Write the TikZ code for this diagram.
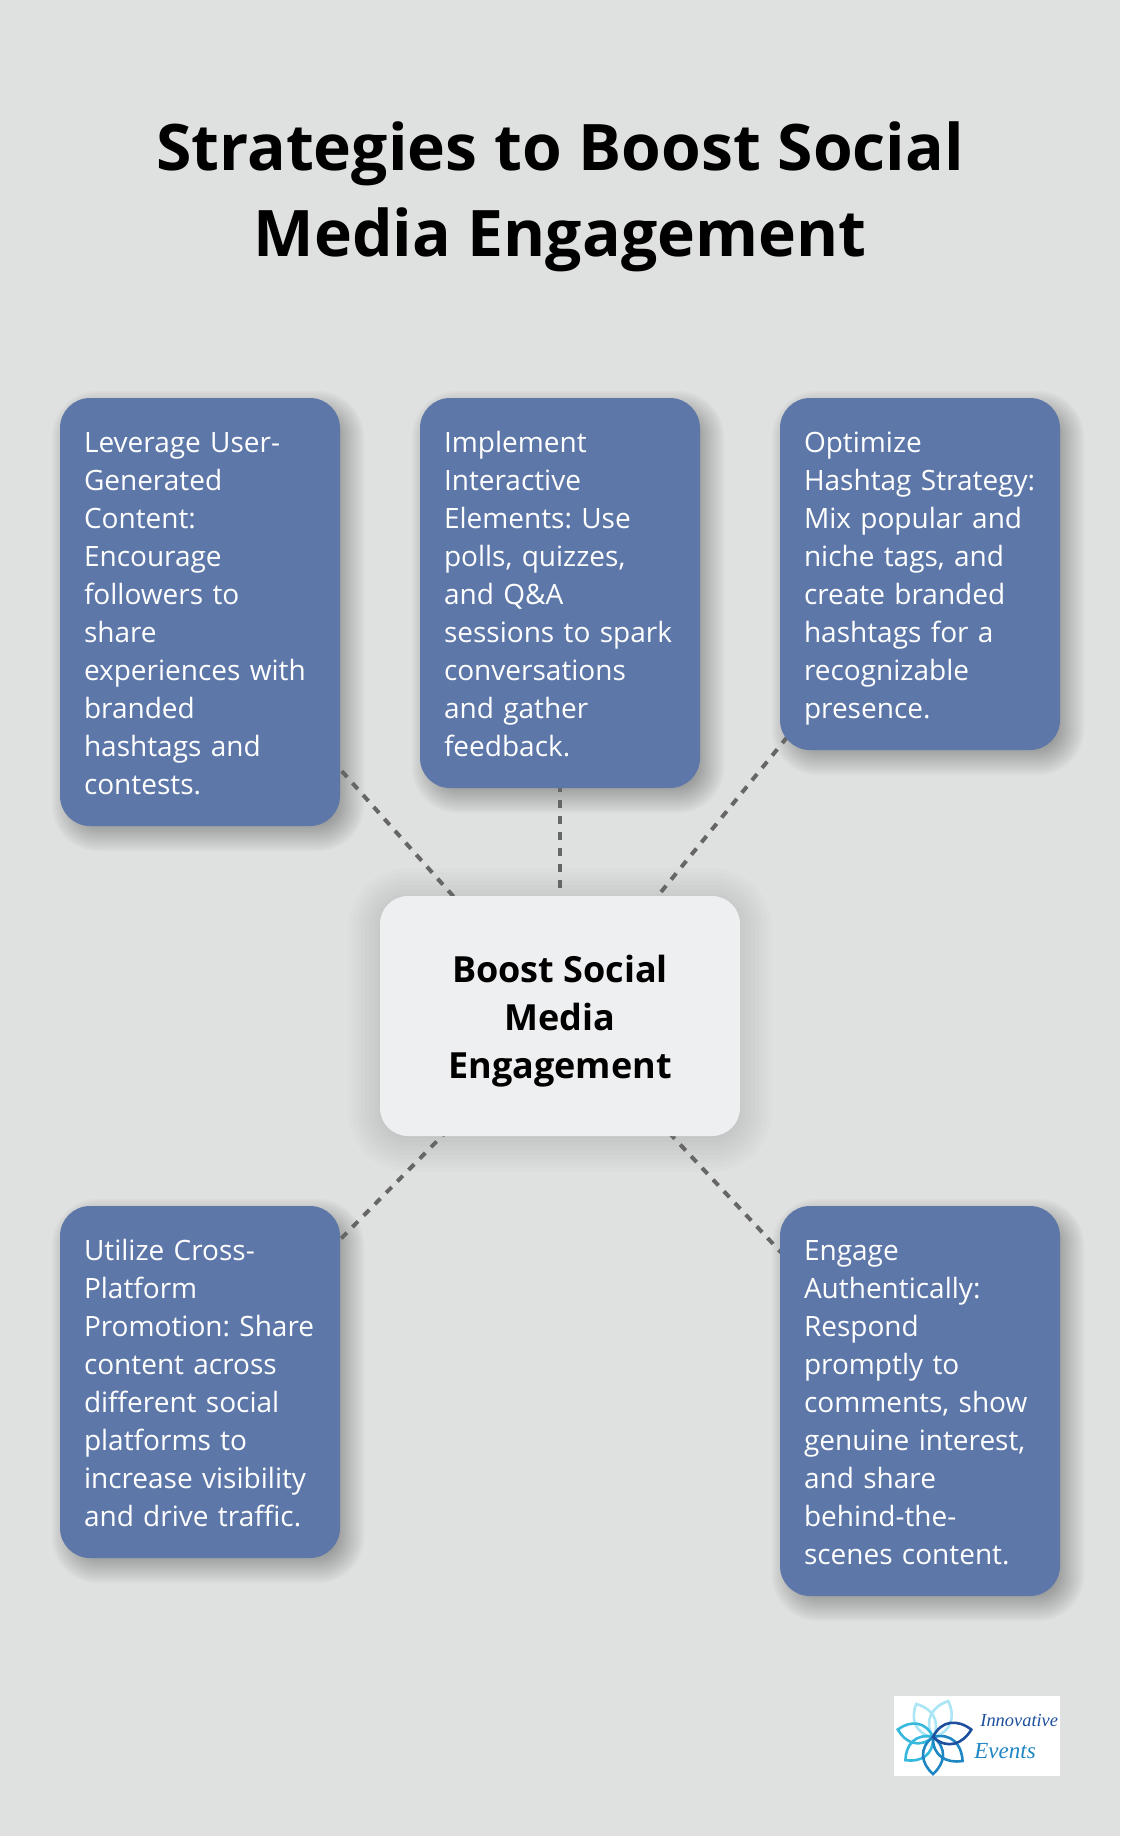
\documentclass[tikz,border=0pt]{standalone}
\usepackage{fontspec}
\setmainfont{Open Sans}
\newfontfamily\brandfont{Liberation Serif}
\frenchspacing
\usetikzlibrary{positioning,calc,backgrounds}
\definecolor{pagebg}{RGB}{223,225,224}
\definecolor{boxblue}{RGB}{93,119,168}
\definecolor{hubcol}{RGB}{238,239,241}
\definecolor{dashcol}{RGB}{102,102,102}
\definecolor{logodark}{RGB}{29,79,158}
\definecolor{logomid}{RGB}{30,135,195}
\definecolor{logosky}{RGB}{55,185,222}
\definecolor{logopale}{RGB}{170,230,245}
\tikzset{>=latex}
\newcommand{\linestrut}{\rule[-3.8pt]{0pt}{19pt}}
\tikzset{
  infobox/.style={fill=boxblue,text=white,rounded corners=15pt,inner sep=12pt,outer sep=0pt,text width=116pt,align=left,
    font=\fontsize{14}{19}\selectfont,execute at begin node=\linestrut,execute at end node=\linestrut},
  hubnode/.style={fill=hubcol,text=black,rounded corners=14pt,minimum width=180pt,minimum height=120pt,inner sep=0pt,outer sep=0pt,align=center,
    font=\fontsize{18}{24}\selectfont\bfseries},
  titlenode/.style={align=center,font=\fontsize{32.1}{43}\selectfont\bfseries},
  linkline/.style={draw=dashcol,line width=2pt,dash pattern=on 4pt off 4pt},
  petal/.style={line width=1.3pt,line join=miter}
}
\newcommand{\softshadow}[7]{%node,xshift,yshift,opacity of one layer,radius,layers,reach
  \foreach \i in {1,...,#6} {
    \pgfmathsetmacro\spread{#7-2*#7*(\i-1)/(#6-1)}
    \pgfmathsetmacro\cornrad{max(#5+\spread,1)}
    \fill[black,opacity=#4,rounded corners=\cornrad pt]
      ($(#1.south west)+(#2-\spread*2,#3+\spread*2)$) rectangle ($(#1.north east)+(#2+\spread*2,#3-\spread*2)$);
  }
}
\begin{document}
\begin{tikzpicture}[x=0.5pt,y=-0.5pt]
  \useasboundingbox (0,0) rectangle (1120,1836);

  \node[titlenode] (title) at (560,197) {Strategies to Boost Social\\Media Engagement};

  %% top row
  \node[infobox,anchor=north west] (leverage) at (60,398) {Leverage User-\\Generated\\Content:\\Encourage\\followers to\\share\\experiences with\\branded\\hashtags and\\contests.};
  \node[infobox,right=40pt of leverage.north east,anchor=north west] (interact) {Implement\\Interactive\\Elements: Use\\polls, quizzes,\\and Q\&A\\sessions to spark\\conversations\\and gather\\feedback.};
  \node[infobox,right=40pt of interact.north east,anchor=north west] (hashtag) {Optimize\\Hashtag Strategy:\\Mix popular and\\niche tags, and\\create branded\\hashtags for a\\recognizable\\presence.};

  \node[hubnode] (hub) at (560,1016) {\rule{0pt}{19pt}Boost Social\\Media\\Engagement};

  %% bottom row
  \node[infobox,anchor=north west] (crossplat) at (60,1206) {Utilize Cross-\\Platform\\Promotion: Share\\content across\\different social\\platforms to\\increase visibility\\and drive traffic.};
  \node[infobox,anchor=north west] (authentic) at (780,1206) {Engage\\Authentically:\\Respond\\promptly to\\comments, show\\genuine interest,\\and share\\behind-the-\\scenes content.};

  \begin{pgfonlayer}{background}
    \fill[pagebg] (0,0) rectangle (1120,1836);
    \softshadow{hub}{0}{4}{0.012}{14}{16}{16}
    \foreach \nm in {leverage,interact,hashtag,crossplat,authentic} {
      \softshadow{\nm}{8}{9}{0.024}{15}{16}{8}
    }
    \foreach \nm in {leverage,interact,hashtag,crossplat,authentic} {
      \draw[linkline] (hub.center) -- (\nm.center);
    }
  \end{pgfonlayer}

  %% logo
  \node[fill=white,minimum width=83pt,minimum height=40pt,inner sep=0pt,outer sep=0pt] (logo) at (977,1736) {};
  \coordinate (flower) at (933,1737);
  \foreach \ang/\len/\col in {-67/39/logopale,-117/37/logopale,-168/36/logosky,140/36/logosky,90/37/logomid,39/38/logomid,-11/39/logodark} {
    \begin{scope}[shift={(flower)},rotate=-\ang]
      \draw[petal,draw=\col] (0,0) .. controls (0.3*\len,0.4*\len) and (0.72*\len,0.32*\len) .. (\len,0)
        .. controls (0.72*\len,-0.32*\len) and (0.3*\len,-0.4*\len) .. cycle;
    \end{scope}
  }
  \node[text=logodark,font=\fontsize{9.2}{11}\selectfont\brandfont\itshape,anchor=west,inner sep=0pt] (brandtop) at (980,1720) {Innovative};
  \node[text=logomid,font=\fontsize{11.5}{12}\selectfont\brandfont\itshape,anchor=west,inner sep=0pt] (brandlow) at (974,1751) {Events};
\end{tikzpicture}
\end{document}
